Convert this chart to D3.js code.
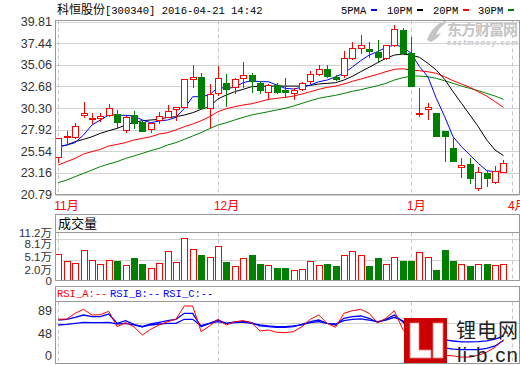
<!DOCTYPE html>
<html><head><meta charset="utf-8">
<script src="https://cdn.jsdelivr.net/npm/d3@7"></script>
<style>body{margin:0;background:#fff}svg{display:block}</style>
</head><body>
<svg id="c" width="520" height="365"></svg>
<script>
// ---------------- data ----------------
const titleCN = "科恒股份";
const titleRest = "[300340] 2016-04-21 14:42";
const legendNames = ["5PMA","10PM","20PM","30PM"];
const legendColors = ["#0000ff","#000000","#ff0000","#008000"];

const openP  = [24.88,27.10,27.15,29.49,29.15,29.25,29.53,29.60,27.88,29.49,
                28.80,27.99,28.98,29.34,30.20,30.44,33.49,33.74,30.26,31.91,
                33.08,32.57,33.56,33.92,33.08,32.09,32.83,32.28,31.91,32.39,
                33.27,34.04,34.55,33.74,33.92,35.76,36.86,36.75,36.49,35.76,
                37.22,38.87,36.31,29.60,30.19,29.71,27.81,25.94,23.77,24.14,
                21.47,23.12,22.20,23.30];
const highP  = [27.04,27.80,28.68,30.99,29.78,29.78,30.74,30.08,29.42,29.97,
                28.90,28.79,29.89,30.63,30.37,33.45,35.02,34.18,32.94,34.91,
                34.03,33.56,35.39,34.18,33.30,32.94,33.08,33.56,32.46,33.19,
                34.40,35.02,35.02,33.92,36.56,37.52,38.32,37.59,37.77,37.22,
                39.42,39.05,38.14,32.46,30.81,29.71,27.81,26.96,24.76,24.76,
                23.85,23.48,23.92,24.58];
const lowP   = [24.40,26.49,27.04,29.34,28.61,28.87,29.42,28.06,27.70,28.06,
                27.80,27.62,28.61,29.27,28.98,30.44,32.64,30.26,28.25,31.73,
                30.55,31.91,32.57,32.09,31.91,31.25,31.91,31.47,31.25,32.28,
                33.08,33.92,33.74,33.38,33.74,35.65,36.31,35.94,35.39,35.65,
                37.11,36.31,32.71,29.42,29.05,27.22,24.51,24.51,22.68,22.09,
                21.28,21.72,22.02,23.23];
const closeP = [27.04,27.22,28.32,29.71,29.25,29.40,30.26,28.80,29.34,28.61,
                27.80,28.68,29.42,29.97,30.37,33.45,33.74,30.26,31.84,33.56,
                32.35,33.45,33.92,33.30,32.28,32.83,32.09,32.02,32.28,33.01,
                34.00,34.55,33.85,33.49,35.76,36.86,37.22,36.60,35.94,37.22,
                38.98,36.38,32.71,29.80,30.37,27.22,27.22,24.51,24.03,22.64,
                23.30,22.64,23.41,24.22];

const ma5  = [26.05,26.23,26.49,27.33,28.43,28.98,29.53,29.53,29.49,29.42,
              28.98,28.68,28.87,28.98,29.27,30.26,31.54,31.54,31.75,32.57,
              32.46,32.57,33.08,33.30,33.19,33.19,32.83,32.46,32.39,32.57,
              32.83,33.19,33.37,33.74,34.11,34.80,35.50,36.12,36.49,36.97,
              37.22,37.04,36.31,34.84,33.74,31.36,29.34,27.14,26.05,25.13,
              24.21,23.41,23.30,23.41];
const ma10 = [26.05,26.23,26.60,26.85,27.14,27.51,27.80,28.06,28.43,28.72,
              28.90,28.98,29.05,29.27,29.34,29.53,29.78,30.15,30.44,31.29,
              31.73,32.09,32.35,32.64,32.68,32.71,32.71,32.71,32.71,32.71,
              32.79,32.94,33.01,33.08,33.37,33.78,34.29,34.77,35.28,35.76,
              36.12,36.23,36.12,35.87,35.21,34.47,33.45,32.09,30.81,29.53,
              28.25,26.78,25.68,25.06];
const ma20 = [24.03,24.40,24.76,25.24,25.50,25.75,26.12,26.30,26.49,26.78,
              26.96,27.14,27.44,27.59,27.88,28.25,28.54,28.90,29.34,29.89,
              30.22,30.44,30.63,30.77,30.99,31.25,31.36,31.47,31.61,31.83,
              32.09,32.35,32.57,32.71,32.94,33.23,33.48,33.74,34.00,34.29,
              34.55,34.62,34.47,34.40,34.29,34.11,33.74,33.30,32.94,32.57,
              32.09,31.61,30.99,30.37];
const ma30 = [22.09,22.38,22.75,23.11,23.48,23.85,24.14,24.40,24.76,25.02,
              25.31,25.61,25.86,26.23,26.49,26.85,27.22,27.59,28.03,28.43,
              28.68,28.98,29.27,29.53,29.71,29.89,30.08,30.26,30.52,30.81,
              31.10,31.36,31.54,31.69,31.91,32.13,32.31,32.53,32.75,33.01,
              33.37,33.63,33.81,33.81,33.74,33.56,33.30,33.01,32.71,32.46,
              32.20,31.91,31.61,31.25];

// volume in 万
const volume = [6.27,4.53,4.15,7.21,4.86,3.76,4.86,4.46,3.69,5.16,
                3.76,2.98,4.15,6.97,4.23,10.02,7.44,5.87,5.56,8.15,
                4.23,3.45,5.33,5.87,3.76,3.69,2.98,2.98,2.51,2.75,
                4.62,3.69,3.76,3.29,6.03,6.97,6.03,3.29,5.16,3.92,
                5.56,4.46,4.46,6.74,5.56,2.35,7.04,4.46,3.92,3.29,
                3.92,3.76,3.69,3.92];

const rsiA = [71,71.5,80.6,87.1,77.9,78.4,83.9,59,65.5,59,
              45.6,54.8,61.8,67.1,71,92.4,92.4,51,60.2,71,
              61.8,67.1,68.7,65.5,52.1,53.7,50,49.4,51,59,
              71,77.9,64.5,58.1,80.6,84.8,87.1,80.6,65.5,72.6,
              84.8,55,40,28,30,20,13,12,10,10,
              13,18,26,38];
const rsiB = [69.8,71,74.2,77.9,75.2,75.2,79.5,64.5,68.7,62.9,
              59,63.4,66.1,68.7,71,80.6,80.6,59,64.5,69.8,
              64.5,66.6,67.7,65.5,60.2,59,58.1,58.1,59,62.9,
              67.1,69.8,64.5,61.8,72.6,75.2,76.3,72.6,66.1,71,
              77.9,67.1,52.6,42,40,33,25,23,22,22,
              22,24,28,37];
const rsiC = [61.8,62.9,64.5,66.1,65.5,65.5,66.1,63.4,64.5,62,
              59,61.8,63.4,64.5,64.5,71,71,60.7,64.5,67.1,
              64.5,65.5,66.6,64.5,61.8,60.2,59,59,60.2,61.8,
              65.5,67.1,64.5,63.4,68.7,71,71.5,69.8,67.1,69.8,
              74.2,68.7,59,52,50,45,37.6,36,34.4,34.4,
              35,36,39,44];

const priceTicks = [20.79,23.16,25.54,27.92,30.30,32.68,35.06,37.44,39.81];
const volTicks = [0,2.0,5.1,8.1,11.2];
const volTickLabels = ["0","2.0万","5.1万","8.1万","11.2万"];
const volGrid = [4.9,9.6];
const rsiTicks = [0,48,89];
const rsiGrid = [64.5];
const monthIdx = [0,19,42,54];
const monthLabels = ["11月","12月","1月","4月"];
const rsiLegend = ["RSI_A:--","RSI_B:--","RSI_C:--"];
const rsiColors = ["#ff0000","#0000ff","#0000ff"];

// ---------------- layout ----------------
const svg = d3.select("#c");
const L = 55.5, R = 519.5;
const mainTop = 20.5, mainBot = 194.5;
const volBoxTop = 214.5, volTop = 232.5, volBot = 280.5;
const rsiBoxTop = 286.5, rsiTop = 301.5, rsiBot = 363.5;
const RED = "#ff0000", GREEN = "#008000";
const numFont = "'Liberation Sans','Noto Sans CJK SC',sans-serif";
const monoFont = "'Liberation Mono','DejaVu Sans Mono',monospace";
const cjkFont = "'Noto Sans CJK SC',sans-serif";

const n = closeP.length;
const x = d3.scaleLinear().domain([0, 54]).range([58.3, 511.9]);
const y = d3.scaleLinear().domain([20.79, 39.81]).range([194.5, 21.5]);
const vy = d3.scaleLinear().domain([0, 11.2]).range([280.5, 232.5]);
const ry = d3.scaleLinear().domain([0, 100]).range([363.3, 301.3]);
const px = i => Math.round(x(i)) + 0.5;
const snap = v => Math.round(v) + 0.5;

// ---------------- header ----------------
const head = svg.append("text").attr("x", 57).attr("y", 14).attr("fill", "#000");
head.append("tspan").attr("font-family", cjkFont).attr("font-size", 12).text(titleCN);
head.append("tspan").attr("font-family", monoFont).attr("font-size", 10.5).text(titleRest);

const legX = [341, 387, 433, 478];
legendNames.forEach((nm, k) => {
  svg.append("text").attr("x", legX[k]).attr("y", 14).attr("font-family", monoFont)
     .attr("font-size", 10.5).attr("fill", "#000").text(nm);
  svg.append("rect").attr("x", legX[k] + 30).attr("y", 9).attr("width", 6).attr("height", 2)
     .attr("fill", legendColors[k]);
});

// watermark eastmoney
const wm = svg.append("g").attr("fill", "#c4c4c4");
wm.append("path").attr("d", "M427,40 C430,31 436,24 446,20 L446,23 C441,26 438,30 436,35 L441,33 C439,37 435,40 431,42 Z");
wm.append("text").attr("x", 447).attr("y", 34.5).attr("font-family", numFont).attr("font-size", 15)
  .attr("font-weight", "bold").attr("textLength", 71).text("东方财富网");
wm.append("text").attr("x", 447).attr("y", 45).attr("font-family", numFont).attr("font-size", 7.5)
  .attr("font-weight", "bold").attr("font-style", "italic").attr("textLength", 71).text("eastmoney.com");

// ---------------- main panel ----------------
const gMain = svg.append("g");
priceTicks.forEach(t => {
  gMain.append("line").attr("x1", L).attr("x2", R).attr("y1", snap(y(t))).attr("y2", snap(y(t)))
    .attr("stroke", "#d2d2d2");
  gMain.append("text").attr("x", 52).attr("y", y(t)).attr("dy", "0.36em").attr("text-anchor", "end")
    .attr("font-family", numFont).attr("font-size", 12.5).attr("fill", "#333").text(t.toFixed(2));
});
function vDashes(g, t, b) {
  monthIdx.forEach(i => {
    g.append("line").attr("x1", px(i)).attr("x2", px(i)).attr("y1", t).attr("y2", b)
      .attr("stroke", "#c8c8c8").attr("stroke-dasharray", "4,3");
  });
}
vDashes(gMain, mainTop, mainBot);

// MA lines
const maLine = d3.line().x((d, i) => x(i)).y(d => y(d));
[[ma30, GREEN], [ma20, RED], [ma10, "#000"], [ma5, "#0000ff"]].forEach(([arr, col]) => {
  gMain.append("path").datum(arr).attr("d", maLine).attr("fill", "none")
    .attr("stroke", col).attr("stroke-width", 1);
});

// candles
for (let i = 0; i < n; i++) {
  const up = closeP[i] >= openP[i];
  const col = up ? RED : GREEN;
  gMain.append("line").attr("x1", px(i)).attr("x2", px(i))
    .attr("y1", Math.round(y(highP[i]))).attr("y2", Math.round(y(lowP[i])) + 1)
    .attr("stroke", col);
  const t = Math.round(y(Math.max(openP[i], closeP[i])));
  const b = Math.round(y(Math.min(openP[i], closeP[i])));
  gMain.append("rect").attr("x", Math.round(x(i)) - 2.5).attr("y", t + 0.5)
    .attr("width", 6).attr("height", Math.max(1, b - t))
    .attr("fill", up ? "#fff" : GREEN).attr("stroke", col);
}
gMain.append("rect").attr("x", L).attr("y", mainTop).attr("width", R - L).attr("height", mainBot - mainTop)
  .attr("fill", "none").attr("stroke", "#999");

// month labels
monthIdx.forEach((i, k) => {
  svg.append("text").attr("x", x(i) - 4).attr("y", 210).attr("font-family", numFont)
    .attr("font-size", 12).attr("fill", RED).text(monthLabels[k]);
});

// ---------------- volume panel ----------------
const gVol = svg.append("g");
gVol.append("rect").attr("x", L).attr("y", volBoxTop).attr("width", R - L).attr("height", volTop - volBoxTop)
  .attr("fill", "none").attr("stroke", "#999");
gVol.append("text").attr("x", 58).attr("y", 228).attr("font-family", cjkFont).attr("font-size", 13)
  .attr("fill", "#000").text("成交量");
volGrid.forEach(v => {
  gVol.append("line").attr("x1", L).attr("x2", R).attr("y1", snap(vy(v))).attr("y2", snap(vy(v)))
    .attr("stroke", "#d2d2d2");
});
vDashes(gVol, volTop, volBot);
volTicks.forEach((t, k) => {
  gVol.append("text").attr("x", 52).attr("y", vy(t) - (k > 0 && k < volTicks.length - 1 ? 2.2 : 0))
    .attr("dy", "0.36em").attr("text-anchor", "end")
    .attr("font-family", numFont).attr("font-size", 11.5).attr("fill", "#333").text(volTickLabels[k]);
});
for (let i = 0; i < n; i++) {
  const up = closeP[i] >= openP[i];
  const t = Math.round(vy(volume[i]));
  gVol.append("rect").attr("x", Math.round(x(i)) - 2.5).attr("y", t + 0.5)
    .attr("width", 6).attr("height", Math.round(vy(0)) - t - 1)
    .attr("fill", up ? "#fff" : GREEN).attr("stroke", up ? RED : GREEN);
}
gVol.append("rect").attr("x", L).attr("y", volTop).attr("width", R - L).attr("height", volBot - volTop)
  .attr("fill", "none").attr("stroke", "#999");

// ---------------- RSI panel ----------------
const gRsi = svg.append("g");
gRsi.append("rect").attr("x", L).attr("y", rsiBoxTop).attr("width", R - L).attr("height", rsiTop - rsiBoxTop)
  .attr("fill", "none").attr("stroke", "#999");
const rsiLegX = [57, 110, 163];
rsiLegend.forEach((t, k) => {
  gRsi.append("text").attr("x", rsiLegX[k]).attr("y", 297).attr("font-family", monoFont)
    .attr("font-size", 10.5).attr("fill", rsiColors[k]).text(t);
});
rsiGrid.forEach(v => {
  gRsi.append("line").attr("x1", L).attr("x2", R).attr("y1", snap(ry(v))).attr("y2", snap(ry(v)))
    .attr("stroke", "#d2d2d2");
});
vDashes(gRsi, rsiTop, rsiBot);
rsiTicks.forEach(t => {
  const yy = Math.max(rsiTop + 9, Math.min(rsiBot - 8, ry(t)));
  gRsi.append("text").attr("x", 52).attr("y", yy).attr("dy", "0.36em").attr("text-anchor", "end")
    .attr("font-family", numFont).attr("font-size", 12.5).attr("fill", "#333").text(t);
});
const rLine = d3.line().x((d, i) => x(i)).y(d => ry(d));
[[rsiC, "#0000ff", 1.3], [rsiB, "#0000ff", 1.3], [rsiA, RED, 1]].forEach(([arr, col, w]) => {
  gRsi.append("path").datum(arr).attr("d", rLine).attr("fill", "none")
    .attr("stroke", col).attr("stroke-width", w);
});
gRsi.append("rect").attr("x", L).attr("y", rsiTop).attr("width", R - L).attr("height", rsiBot - rsiTop)
  .attr("fill", "none").attr("stroke", "#999");

// ---------------- li-b.cn logo ----------------
const lg = svg.append("g");
lg.append("rect").attr("x", 404).attr("y", 318).attr("width", 43).attr("height", 45).attr("fill", "#cc0000");
lg.append("path").attr("d", "M410,323 L419,323 L419,350 L431,350 L431,358 L410,358 Z")
  .attr("fill", "#fff").attr("stroke", "#f08080").attr("stroke-width", 0.8);
lg.append("rect").attr("x", 433).attr("y", 323).attr("width", 10).attr("height", 35)
  .attr("fill", "#fff").attr("stroke", "#f08080").attr("stroke-width", 0.8);
lg.append("text").attr("x", 456).attr("y", 338).attr("font-family", numFont).attr("font-size", 20)
  .attr("fill", "#222").attr("textLength", 62).text("锂电网");
lg.append("text").attr("x", 457).attr("y", 361.5).attr("font-family", numFont).attr("font-size", 20.5)
  .attr("fill", "#222").attr("textLength", 61).text("li-b.cn");
</script>
</body></html>
